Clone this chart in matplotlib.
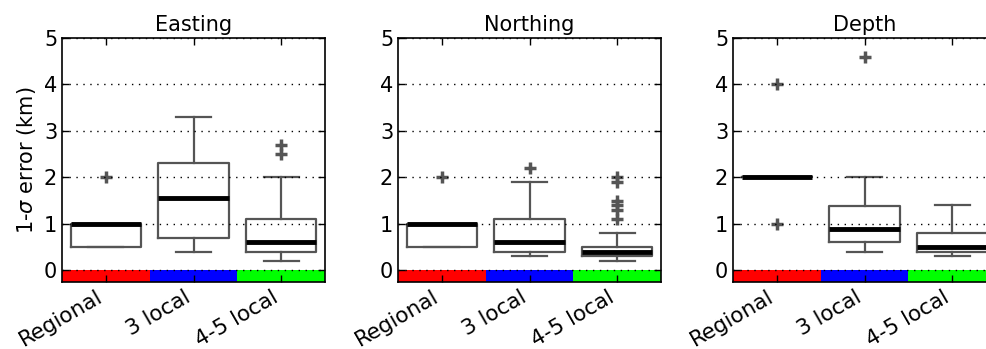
import matplotlib
matplotlib.use('Agg')
import matplotlib.pyplot as plt

# Location error summaries (km) per network class
groups = ['Regional', '3 local', '4-5 local']
group_colors = ['#ff0000', '#0000ff', '#00ff00']
panels = ['Easting', 'Northing', 'Depth']

# box statistics: [Regional, 3 local, 4-5 local]
med = {'Easting': [1.0, 1.55, 0.6],
       'Northing': [1.0, 0.6, 0.4],
       'Depth': [2.0, 0.9, 0.5]}
q1 = {'Easting': [0.5, 0.7, 0.4],
      'Northing': [0.5, 0.4, 0.3],
      'Depth': [2.0, 0.6, 0.4]}
q3 = {'Easting': [1.0, 2.3, 1.1],
      'Northing': [1.0, 1.1, 0.5],
      'Depth': [2.0, 1.38, 0.8]}
whislo = {'Easting': [0.5, 0.4, 0.2],
          'Northing': [0.5, 0.3, 0.2],
          'Depth': [2.0, 0.4, 0.3]}
whishi = {'Easting': [1.0, 3.3, 2.0],
          'Northing': [1.0, 1.9, 0.8],
          'Depth': [2.0, 2.0, 1.4]}
fliers = {'Easting': [[2.0], [], [2.5, 2.7]],
          'Northing': [[2.0], [2.2], [1.1, 1.3, 1.4, 1.5, 1.9, 2.0]],
          'Depth': [[1.0, 4.0], [4.6], []]}

fig = plt.figure(figsize=(9.86, 3.49), dpi=100)

lefts = [62, 398, 733]
gray = '#555555'
for k, name in enumerate(panels):
    ax = fig.add_axes([lefts[k] / 986, 1 - 282 / 349, 263 / 986, 244 / 349])
    stats = []
    for i in range(3):
        stats.append(dict(med=med[name][i], q1=q1[name][i], q3=q3[name][i],
                          whislo=whislo[name][i], whishi=whishi[name][i],
                          fliers=fliers[name][i]))
    ax.bxp(stats, positions=[1, 2, 3], widths=0.8,
           boxprops=dict(color=gray, lw=1.6),
           whiskerprops=dict(color=gray, lw=1.6, linestyle='-'),
           capprops=dict(color=gray, lw=1.6),
           medianprops=dict(color='k', lw=3.5, solid_capstyle='butt'),
           flierprops=dict(marker='+', markeredgecolor=gray, markersize=8,
                           markeredgewidth=2.5))

    # coloured strip under zero marking each group
    ax.bar([1, 2, 3], 0.25, bottom=-0.25, width=1.0, color=group_colors,
           edgecolor='none', zorder=1)

    ax.set_xlim(0.5, 3.5)
    ax.set_ylim(-0.25, 5)
    ax.set_yticks([0, 1, 2, 3, 4, 5])
    ax.set_xticks([1, 2, 3])
    ax.set_xticklabels(groups, rotation=30, ha='right', fontsize=15.5)
    ax.tick_params(axis='y', labelsize=15)
    ax.tick_params(direction='in', length=5, width=1, top=True, right=True,
                   color='k')
    ax.yaxis.grid(True, color='k', lw=1, dashes=(1, 4))
    ax.set_axisbelow(False)
    for sp in ax.spines.values():
        sp.set_linewidth(1.2)
    ax.set_title(name, fontsize=15, pad=5)
    if k == 0:
        ax.set_ylabel('1-$\\sigma$ error (km)', fontsize=15)

fig.savefig('out.png', dpi=100)
